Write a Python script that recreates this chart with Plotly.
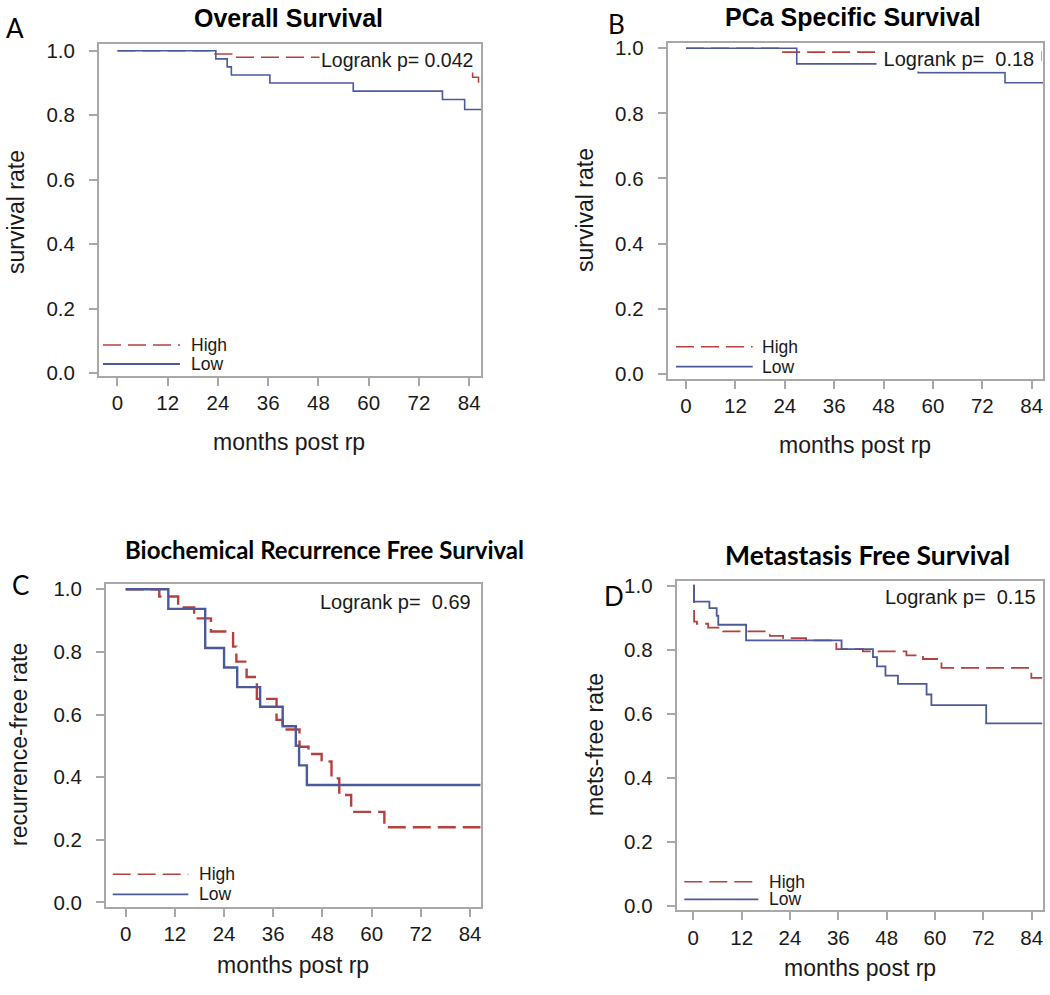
import plotly.graph_objects as go

W, H = 1050, 995

# ---- data (months, survival fraction) ----
months_ticks = [0, 12, 24, 36, 48, 60, 72, 84]
rate_ticks = [0.0, 0.2, 0.4, 0.6, 0.8, 1.0]

os_high_t = [0, 23.3, 27.3, 84.8, 86.2, 86.8]
os_high_s = [1.0, 0.99, 0.98, 0.918, 0.90, 0.90]
os_low_t = [0, 23.5, 26.2, 27.2, 36.4, 56.3, 77.6, 82.9, 86.8]
os_low_s = [1.0, 0.975, 0.95, 0.925, 0.90, 0.875, 0.849, 0.818, 0.818]

pcss_high_t = [0, 23.2, 86.3, 86.8]
pcss_high_s = [1.0, 0.988, 0.945, 0.945]
pcss_low_t = [0, 26.9, 56.4, 77.5, 86.8]
pcss_low_s = [1.0, 0.952, 0.925, 0.894, 0.894]

bcr_high_t = [0, 8.2, 12.8, 16.7, 20.8, 26.2, 27.0, 29.5, 32.0, 36.8, 38.3,
              42.4, 44.6, 47.8, 50.2, 52.1, 55.0, 63.1, 86.6]
bcr_high_s = [1.0, 0.977, 0.942, 0.907, 0.865, 0.817, 0.769, 0.72, 0.65, 0.583,
              0.552, 0.497, 0.474, 0.45, 0.396, 0.343, 0.289, 0.24, 0.24]
bcr_low_t = [0, 10.4, 19.4, 24.0, 27.2, 32.8, 38.3, 41.5, 42.3, 44.2, 86.6]
bcr_low_s = [1.0, 0.9375, 0.8125, 0.75, 0.6875, 0.625, 0.5625, 0.5, 0.4375,
             0.375, 0.375]

mfs_high_t = [0, 0.2, 0.9, 3.7, 7.4, 19.0, 22.3, 28.0, 35.5, 42.1, 52.9, 57.0,
              61.6, 83.9, 86.6]
mfs_high_s = [1.0, 0.888, 0.881, 0.869, 0.857, 0.843, 0.836, 0.829, 0.802, 0.795,
              0.782, 0.771, 0.743, 0.712, 0.712]
mfs_low_t = [0, 0.2, 4.0, 5.8, 6.2, 13.1, 36.8, 44.6, 45.6, 47.7, 50.8, 57.9,
             59.1, 72.7, 86.6]
mfs_low_s = [1.0, 0.95, 0.93, 0.906, 0.878, 0.829, 0.802, 0.777, 0.748, 0.719,
             0.693, 0.66, 0.627, 0.570, 0.570]

RED = "#B5403D"
BLUE = "#4C5A9B"
FRAME = "#A8A8A8"
TXT = "#1a1a1a"
ARIAL = "Liberation Sans"
CALIBRI = "Lato"


def px(x):
    return x / W


def py(y):
    return 1 - y / H


# one dict per panel; frame / positions are in picture pixels
panels = [
    dict(key="", title="Overall Survival", ytitle="survival rate",
         logrank="Logrank p= 0.042", lsize=19.5, frame=(99, 481, 44, 375.7),
         xr=[-4.4, 86.8], yr=[-0.0074, 1.021],
         high=(os_high_t, os_high_s), low=(os_low_t, os_low_s), lw=1.6,
         tpos=(288, 18), tfont=dict(family=ARIAL, size=25, color="black"),
         letter=("A", 4, 28), ypos=(16, 212), xpos=(289, 442), lpos=(474.5, 60),
         leg=(103, 180, 345, 364, 189)),
    dict(key="2", title="PCa Specific Survival", ytitle="survival rate",
         logrank="\u00a0Logrank p=\u00a0\u00a00.18\u00a0", lsize=20,
         frame=(667.7, 1043.3, 42.7, 378.7),
         xr=[-4.45, 86.8], yr=[-0.015, 1.017],
         high=(pcss_high_t, pcss_high_s), low=(pcss_low_t, pcss_low_s), lw=1.6,
         tpos=(853, 17), tfont=dict(family=ARIAL, size=25, color="black"),
         letter=("B", 606, 24), ypos=(585, 210), xpos=(855, 445), lpos=(1042, 58.5),
         leg=(676, 752.7, 346.7, 366.7, 760)),
    dict(key="3", title="Biochemical Recurrence Free Survival", ytitle="recurrence-free rate",
         logrank="Logrank p=\u00a0\u00a00.69", lsize=20, frame=(106, 480.7, 584.3, 906.7),
         xr=[-4.8, 86.6], yr=[-0.014, 1.016],
         high=(bcr_high_t, bcr_high_s), low=(bcr_low_t, bcr_low_s), lw=2.4,
         tpos=(324, 549), tfont=dict(family=CALIBRI, size=24, color="black"),
         letter=("C", 10, 585), ypos=(19, 745), xpos=(293, 965), lpos=(473.3, 601.7),
         leg=(112.7, 188.3, 874.3, 894.3, 196.7)),
    dict(key="4", title="Metastasis Free Survival", ytitle="mets-free rate",
         logrank="Logrank p=\u00a0\u00a00.15", lsize=20, frame=(676.7, 1043, 580.7, 910),
         xr=[-4.12, 86.8], yr=[-0.0134, 1.0156],
         high=(mfs_high_t, mfs_high_s), low=(mfs_low_t, mfs_low_s), lw=1.8,
         tpos=(867, 555), tfont=dict(family=CALIBRI, size=26.5, color="black"),
         letter=("D", 602, 596), ypos=(595, 745), xpos=(860, 968), lpos=(1037.7, 596.7),
         leg=(684.3, 758.3, 881.7, 899.3, 766.7)),
]

fig = go.Figure()
layout = {}
annotations = []
shapes = []

for p in panels:
    k = p["key"]
    x0, x1, y0, y1 = p["frame"]
    axis_common = dict(
        showline=True, mirror=True, linecolor=FRAME, linewidth=2,
        showgrid=False, zeroline=False, ticks="outside", ticklen=8,
        tickcolor=FRAME, tickwidth=1.5, automargin=False,
        tickfont=dict(family=ARIAL, size=20.5, color=TXT),
    )
    layout["xaxis" + k] = dict(axis_common, domain=[px(x0), px(x1)], range=p["xr"],
                               tickvals=months_ticks, anchor="y" + k,
                               ticklabelstandoff=0)
    layout["yaxis" + k] = dict(axis_common, domain=[py(y1), py(y0)], range=p["yr"],
                               tickvals=rate_ticks, tickformat=".1f", anchor="x" + k,
                               ticklabelstandoff=10)

    for (t, s), color, dash, name in [(p["high"], RED, "18px,7px", "High"),
                                      (p["low"], BLUE, "solid", "Low")]:
        fig.add_trace(go.Scatter(
            x=t, y=s, mode="lines",
            line=dict(color=color, width=p["lw"], dash=dash, shape="hv"),
            name=name, showlegend=False, xaxis="x" + k, yaxis="y" + k,
        ))

    # title
    annotations.append(dict(x=px(p["tpos"][0]), y=py(p["tpos"][1]), xref="paper",
                            yref="paper", text=f"<b>{p['title']}</b>", showarrow=False,
                            font=p["tfont"], xanchor="center", yanchor="middle"))
    # panel letter
    lt, lx, ly = p["letter"]
    annotations.append(dict(x=px(lx), y=py(ly), xref="paper", yref="paper", text=lt,
                            showarrow=False, font=dict(family=CALIBRI, size=26, color="black"),
                            xanchor="left", yanchor="middle"))
    # axis titles
    annotations.append(dict(x=px(p["ypos"][0]), y=py(p["ypos"][1]), xref="paper",
                            yref="paper", text=p["ytitle"], showarrow=False, textangle=-90,
                            font=dict(family=ARIAL, size=23, color=TXT),
                            xanchor="center", yanchor="middle"))
    annotations.append(dict(x=px(p["xpos"][0]), y=py(p["xpos"][1]), xref="paper",
                            yref="paper", text="months post rp", showarrow=False,
                            font=dict(family=ARIAL, size=23, color=TXT),
                            xanchor="center", yanchor="middle"))
    # logrank inset (white box hides the curves beneath, as in the original)
    annotations.append(dict(x=px(p["lpos"][0]), y=py(p["lpos"][1]), xref="paper",
                            yref="paper", text=p["logrank"], showarrow=False,
                            font=dict(family=ARIAL, size=p["lsize"], color=TXT),
                            bgcolor="white", borderpad=1,
                            xanchor="right", yanchor="middle"))
    # legend
    lx0, lx1, ly_hi, ly_lo, ltx = p["leg"]
    shapes.append(dict(type="line", xref="paper", yref="paper", x0=px(lx0), x1=px(lx1),
                       y0=py(ly_hi), y1=py(ly_hi),
                       line=dict(color=RED, width=1.6, dash="18px,7px")))
    shapes.append(dict(type="line", xref="paper", yref="paper", x0=px(lx0), x1=px(lx1),
                       y0=py(ly_lo), y1=py(ly_lo), line=dict(color=BLUE, width=1.8)))
    for txt, yy in [("High", ly_hi), ("Low", ly_lo)]:
        annotations.append(dict(x=px(ltx), y=py(yy), xref="paper", yref="paper",
                                text=txt, showarrow=False,
                                font=dict(family=ARIAL, size=17.5, color=TXT),
                                xanchor="left", yanchor="middle"))

fig.update_layout(
    width=W, height=H, margin=dict(l=0, r=0, t=0, b=0, autoexpand=False),
    paper_bgcolor="white", plot_bgcolor="white", showlegend=False,
    annotations=annotations, shapes=shapes, **layout,
)

# the page's default body margin would shift the figure by 8px
fig.write_html("out.html", config={"displayModeBar": False},
               post_script="document.body.style.margin='0';")
